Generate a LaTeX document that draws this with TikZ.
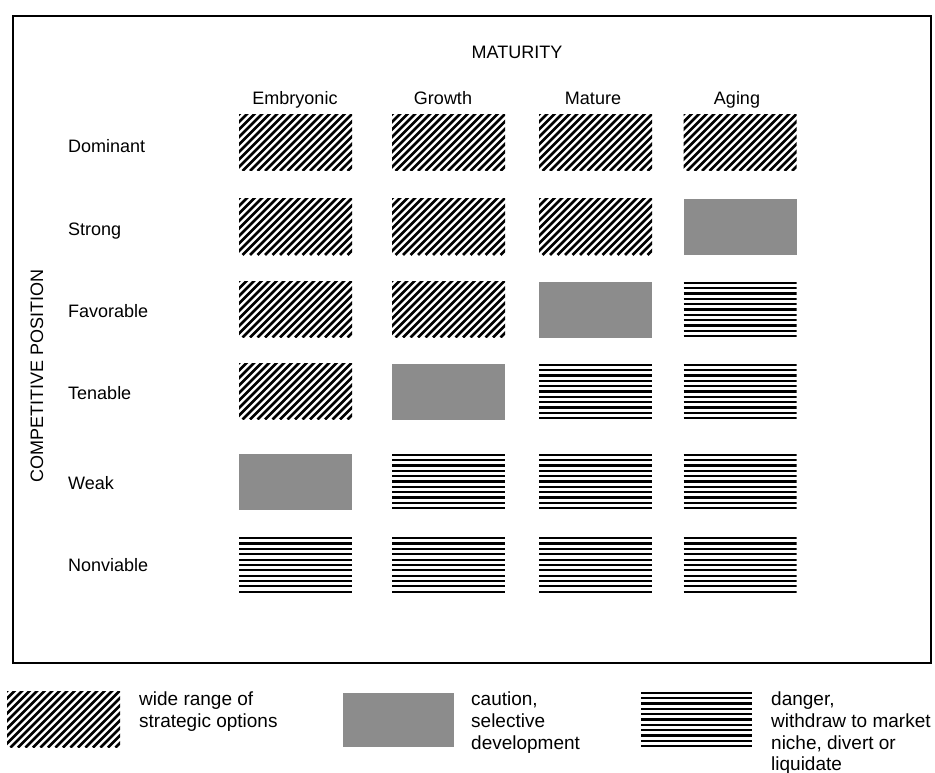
\documentclass[tikz,border=0pt]{standalone}
\usepackage{fontspec}
\setmainfont{Liberation Sans}
\begin{document}
\begin{tikzpicture}[x=1pt,y=-1pt,
  cellbase/.style={minimum width=113pt,minimum height=56pt,inner sep=0pt,outer sep=0pt},
  widebox/.style={cellbase,path picture={
      \foreach \k in {0,...,25}{
        \draw[line width=2.6pt] ([xshift=\k*7.5pt-64pt]path picture bounding box.south west) -- ++(66pt,66pt);}}},
  cautionbox/.style={cellbase,fill=black!45},
  dangerbox/.style={cellbase,path picture={
      \foreach \k in {0,...,10}{
        \draw[line width=2.2pt] ([yshift=-\k*5.35pt-1.2pt]path picture bounding box.north west) -- ([yshift=-\k*5.35pt-1.2pt]path picture bounding box.north east);}}},
  lab/.style={font=\fontsize{18}{20}\selectfont,inner sep=0pt},
  leg/.style={font=\fontsize{19}{22}\selectfont,inner sep=0pt,anchor=base west},
]
\useasboundingbox (0,0) rectangle (935,773);

% frame
\draw[line width=2.6pt] (13,16) rectangle (931,663);

% titles
\node[lab,anchor=base] (mat) at (517,58.5) {MATURITY};
\node[lab,rotate=90] (cp) at (37,376) {COMPETITIVE POSITION};

% column headers
\node[lab,anchor=base] (h1) at (295,105) {Embryonic};
\node[lab,anchor=base] (h2) at (443,105) {Growth};
\node[lab,anchor=base] (h3) at (593,105) {Mature};
\node[lab,anchor=base] (h4) at (737,105) {Aging};

% row labels
\node[lab,anchor=base west] (r1) at (68,153) {Dominant};
\node[lab,anchor=base west] (r2) at (68,235) {Strong};
\node[lab,anchor=base west] (r3) at (68,317) {Favorable};
\node[lab,anchor=base west] (r4) at (68,399) {Tenable};
\node[lab,anchor=base west] (r5) at (68,489) {Weak};
\node[lab,anchor=base west] (r6) at (68,571) {Nonviable};

% cells: row Dominant
\node[widebox] (c11) at (295.5,143) {};
\node[widebox] (c12) at (448.5,143) {};
\node[widebox] (c13) at (595.5,143) {};
\node[widebox] (c14) at (740,143) {};
% Strong
\node[widebox] (c21) at (295.5,227) {};
\node[widebox] (c22) at (448.5,227) {};
\node[widebox] (c23) at (595.5,227) {};
\node[cautionbox] (c24) at (740,227) {};
% Favorable
\node[widebox] (c31) at (295.5,309.5) {};
\node[widebox] (c32) at (448.5,309.5) {};
\node[cautionbox] (c33) at (595.5,309.5) {};
\node[dangerbox] (c34) at (740,309.5) {};
% Tenable
\node[widebox] (c41) at (295.5,391.5) {};
\node[cautionbox] (c42) at (448.5,391.5) {};
\node[dangerbox] (c43) at (595.5,391.5) {};
\node[dangerbox] (c44) at (740,391.5) {};
% Weak
\node[cautionbox] (c51) at (295.5,481.5) {};
\node[dangerbox] (c52) at (448.5,481.5) {};
\node[dangerbox] (c53) at (595.5,481.5) {};
\node[dangerbox] (c54) at (740,481.5) {};
% Nonviable
\node[dangerbox] (c61) at (295.5,565) {};
\node[dangerbox] (c62) at (448.5,565) {};
\node[dangerbox] (c63) at (595.5,565) {};
\node[dangerbox] (c64) at (740,565) {};

% legend
\node[widebox] (l1) at (63.5,719.5) {};
\node[leg] (t1a) at (139,705) {wide range of};
\node[leg] (t1b) at (139,727) {strategic options};

\node[cautionbox,minimum width=111pt,minimum height=54pt] (l2) at (398.5,720) {};
\node[leg] (t2a) at (471,705) {caution,};
\node[leg] (t2b) at (471,727) {selective};
\node[leg] (t2c) at (471,749) {development};

\node[dangerbox,minimum width=111pt] (l3) at (696.5,719.5) {};
\node[leg] (t3a) at (771,705) {danger,};
\node[leg] (t3b) at (771,727) {withdraw to market};
\node[leg] (t3c) at (771,749) {niche, divert or};
\node[leg] (t3d) at (771,770) {liquidate};
\end{tikzpicture}
\end{document}
